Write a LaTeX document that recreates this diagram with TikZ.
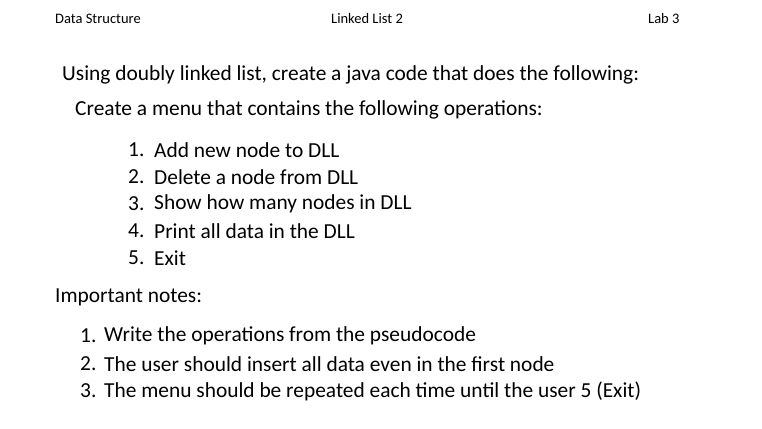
\documentclass[tikz,border=0pt]{standalone}
\usepackage{fontspec}
\setmainfont{Carlito}
\usetikzlibrary{positioning}
\tikzset{
  head/.style={anchor=west, inner sep=0pt, font=\fontsize{14.5}{17}\selectfont},
  body/.style={anchor=west, inner sep=0pt, font=\fontsize{21.4}{25}\selectfont},
}
\begin{document}
\begin{tikzpicture}[x=1pt,y=-1pt]
\useasboundingbox (0,0) rectangle (762,428);
% page header
\node[head] (course) at (55,19) {Data Structure};
\node[head] (topic) at (331,19) {Linked List 2};
\node[head] (lab) at (648,19) {Lab 3};
% task
\node[body] (task) at (62,75) {Using doubly linked list, create a java code that does the following:};
\node[body] (menu) at (75,110) {Create a menu that contains the following operations:};
% menu items
\foreach \i/\t/\y in {1/Add new node to DLL/150, 2/Delete a node from DLL/177,
  3/Show how many nodes in DLL/204, 4/Print all data in the DLL/231, 5/Exit/258}{
  \node[body] (num\i) at (128,\y) {\i.};
  \node[body] (item\i) at (154,\y) {\t};
}
% notes
\node[body] (notes) at (55,297) {Important notes:};
\foreach \i/\t/\y in {1/Write the operations from the pseudocode/336,
  2/The user should insert all data even in the first node/364,
  3/The menu should be repeated each time until the user 5 (Exit)/391}{
  \node[body] (nnum\i) at (80,\y) {\i.};
  \node[body] (note\i) at (104,\y) {\t};
}
\end{tikzpicture}
\end{document}
